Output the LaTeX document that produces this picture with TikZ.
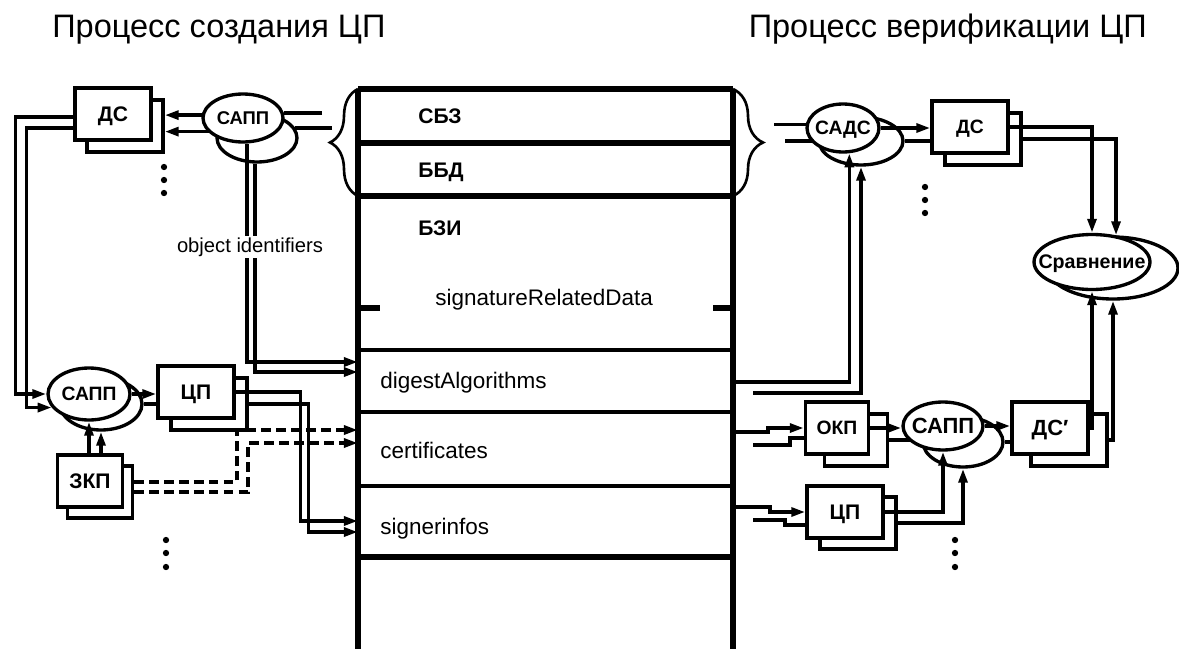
\documentclass[tikz,border=0pt]{standalone}
\usepackage{fontspec}
\setmainfont{Liberation Sans}
\usetikzlibrary{arrows,arrows.meta,shapes.geometric,decorations.pathreplacing}

\newcommand\boxfont{\bfseries\fontsize{12}{14}\selectfont}
\newcommand\tabfont{\fontsize{12.8}{15}\selectfont}

\pgfdeclarelayer{back}
\pgfdeclarelayer{wires}
\pgfsetlayers{back,wires,main}

\tikzset{
  wire/.style={line width=2pt},
  arr/.style={wire, -{Triangle[length=8pt,width=5pt]}},
  dsh/.style={arr, dash pattern=on 5.5pt off 3pt},
  box/.style={draw, fill=white, line width=1.9pt, minimum width=1.52cm,
    minimum height=1.04cm, inner sep=0pt, text depth=0pt, font=\boxfont},
  oval/.style={ellipse, draw, fill=white, line width=1.9pt, inner sep=0pt,
    minimum width=1.6cm, minimum height=0.96cm},
  lbl/.style={inner sep=0pt, text depth=0pt, font=\bfseries\fontsize{#1}{14}\selectfont},
  lbl/.default=12,
  rowtxt/.style={anchor=base west, inner sep=0pt, font=\tabfont},
  rowhead/.style={anchor=base west, inner sep=0pt, font=\bfseries\fontsize{12}{14}\selectfont},
  rulethick/.style={line width=3pt},
  rulethin/.style={line width=2pt},
}

\begin{document}
\begin{tikzpicture}[x=0.02cm, y=-0.02cm]
\useasboundingbox (0,0) rectangle (1179,649);

% titles
\node[anchor=base west, inner sep=0pt, font=\fontsize{18.5}{22}\selectfont] (ttlL) at (52,37) {Процесс создания ЦП};
\node[anchor=base east, inner sep=0pt, font=\fontsize{18.5}{22}\selectfont] (ttlR) at (1147,37) {Процесс верификации ЦП};

% table
\draw[line width=3.2pt] (358,89) -- (358,649) (733,89) -- (733,649);
\foreach \y in {89,143,196,557} \draw[rulethick] (358,\y) -- (733,\y);
\foreach \y in {350,412,486} \draw[rulethin] (358,\y) -- (733,\y);
\draw[rulethick] (358,308) -- (380,308) (713,308) -- (733,308);

\node[rowhead] (sbz) at (418,123) {СБЗ};
\node[rowhead] (bbd) at (418,177) {ББД};
\node[rowhead] (bzi) at (418,235) {БЗИ};
\node[rowtxt] (srd) at (435,305) {signatureRelatedData};
\node[rowtxt] (dig) at (380,388) {digestAlgorithms};
\node[rowtxt] (crt) at (380,458) {certificates};
\node[rowtxt] (sgi) at (380,534) {signerinfos};

% braces
\draw[line width=1.5pt, decorate, decoration={brace, amplitude=0.56cm}] (358,196) -- (358,89);
\draw[line width=1.5pt, decorate, decoration={brace, amplitude=0.6cm}] (733,89) -- (733,196);

% ports on the table
\foreach \n/\x/\y in {dA1/358/362, dA2/358/372, cA1/358/430, cA2/358/443,
    sA1/358/521, sA2/358/532, dB1/733/382, dB2/753/393, cB1/733/432,
    cB2/753/445, sB1/733/507, sB2/753/520}
  \coordinate (\n) at (\x,\y);
\coordinate (lb) at (322,143);
\coordinate (rb) at (774,143);

% front nodes
\node[box] (ds1) at (113,114) {ДС};
\node[oval, label={[lbl=10.5]center:САПП}] (sapp1) at (243,118) {};
\node[oval, minimum width=1.64cm, minimum height=1.04cm, label={[lbl=11]center:САПП}] (sapp2) at (89,394) {};
\node[box] (cp1) at (196,392) {ЦП};
\node[box, minimum width=1.3cm] (zkp) at (90,481) {ЗКП};
\node[oval, minimum width=1.44cm, label={[lbl=11]center:САДС}] (sadc) at (843,128) {};
\node[box, font=\bfseries\fontsize{11}{13}\selectfont] (ds2) at (970,127) {ДС};
\node[oval, minimum width=2.32cm, minimum height=1.1cm, label={[lbl=11.2]center:Сравнение}] (cmp) at (1092,262) {};
\node[box, minimum width=1.26cm, font=\bfseries\fontsize{11}{13}\selectfont] (okp) at (837,428) {ОКП};
\node[oval, label={[lbl=12.5]center:САПП}] (sapp3) at (943,426) {};
\node[box, font=\bfseries\fontsize{12.5}{14}\selectfont] (dsp) at (1050,428) {ДС′};
\node[box] (cp2) at (845,512) {ЦП};

\node[fill=white, inner sep=1pt, font=\fontsize{11.5}{13}\selectfont] (oid) at (250,247) {object identifiers};

% copies behind
\begin{pgfonlayer}{back}
\node[box] (ds1b) at (125,126) {};
\node[oval] (sapp1b) at (257,138) {};
\node[oval, minimum width=1.64cm, minimum height=1.04cm] (sapp2b) at (101,404) {};
\node[box] (cp1b) at (209,404) {};
\node[box, minimum width=1.3cm] (zkpb) at (100,492) {};
\node[oval, minimum width=1.68cm] (sadcb) at (861,141) {};
\node[box] (ds2b) at (983,139) {};
\node[oval, minimum width=2.6cm, minimum height=1.24cm] (cmpb) at (1113,268) {};
\node[box, minimum width=1.26cm] (okpb) at (856,440) {};
\node[oval, minimum height=1cm] (sapp3b) at (963,442) {};
\node[box] (dspb) at (1069,440) {};
\node[box] (cp2b) at (858,523) {};
\end{pgfonlayer}

\begin{pgfonlayer}{wires}
% creation
\draw[arr] (sapp1.176) -- (sapp1.176 -| ds1b.east);
\draw[arr] (sapp1b.171) -- (sapp1b.171 -| ds1b.east);
\draw[wire] (lb |- sapp1.7) -- (sapp1.7);
\draw[wire] ([xshift=0.2cm]lb |- sapp1b.15) -- (sapp1b.15);
\draw[arr] ([xshift=0.08cm]sapp1.south) |- (dA1);
\draw[arr] ([xshift=-0.04cm]sapp1b.south) |- (dA2);
\draw[arr] ([yshift=-0.06cm]ds1.west) -- ++(-58,0) |- (sapp2.west);
\draw[arr] ([yshift=-0.28cm]ds1.west) -- ++(-47,0) |- (sapp2.200);
\draw[arr] (sapp2.east) -- (sapp2.east -| cp1.west);
\draw[wire] (sapp2b.east) -- (sapp2b.east -| cp1.west);
\draw[arr] (zkp.north -| sapp2.south) -- (sapp2.south);
\draw[arr] (zkp.north -| sapp2b.south) -- (sapp2b.south);
\draw[dsh] ([yshift=0.2cm]zkpb.east) -- ++(103,0) |- (cA1);
\draw[dsh] (zkpb.east) -- ++(114,0) |- (cA2);
\draw[arr] (cp1.east) -- ++(65,0) |- (sA1);
\draw[arr] (cp1b.east) -- ++(60,0) |- (sA2);
% verification
\draw[wire] (rb |- sadc.175) -- (sadc.175);
\draw[wire] ([xshift=0.22cm]rb |- sadcb.west) -- (sadcb.west);
\draw[arr] (sadc.east) -- (sadc.east -| ds2.west);
\draw[wire] (sadcb.east) -- (sadcb.east -| ds2.west);
\draw[arr] (ds2.east) -| (cmp.north);
\draw[arr] (ds2b.east) -| (cmp.48);
\draw[arr] (dB1) -| (sadc.-76);
\draw[arr] (dB2) -| (sadcb.south);
\draw[arr] (cB1) -- ++(35,0) |- (okp.west);
\draw[wire] (cB2) -- ++(37,0) |- ([yshift=-0.2cm]okp.west);
\draw[arr] (okp.east) -- (okp.east -| sapp3.west);
\draw[wire] (okpb.east) -- (okpb.east -| sapp3b.west);
\draw[arr] (sapp3.east) -- (sapp3.east -| dsp.west);
\draw[wire] (sapp3b.east) -- (sapp3b.east -| dsp.west);
\draw[arr] (dsp.east) -| (cmp.south);
\draw[arr] (dspb.east) -| (cmpb.south);
\draw[arr] (sB1) -- ++(37,0) |- (cp2.west);
\draw[wire] (sB2) -- ++(32,0) |- ([yshift=-0.26cm]cp2.west);
\draw[arr] (cp2.east) -| (sapp3.south);
\draw[arr] (cp2b.east) -| (sapp3b.south);
\end{pgfonlayer}

% dots
\foreach \x/\y in {164/167,164/180,164/193,166/540,166/553,166/567,
    925/187,925/200,925/213,955/540,955/553,955/567}
  \fill (\x,\y) circle (1.8pt);

\end{tikzpicture}
\end{document}
